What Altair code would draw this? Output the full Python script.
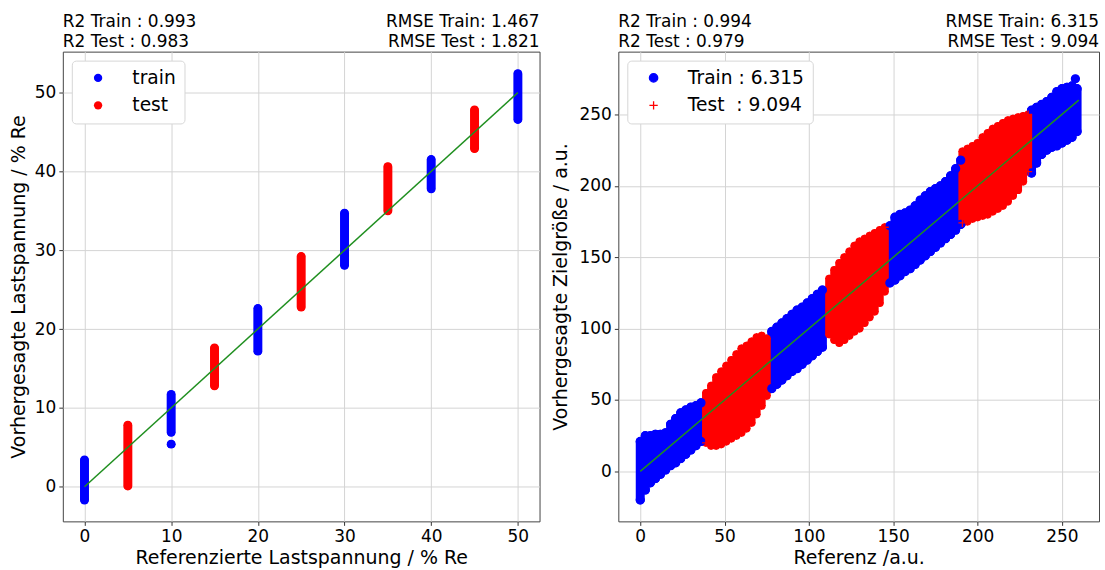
import altair as alt
import pandas as pd

FONT = "DejaVu Sans"
FS = 17        # tick labels / header
FT = 19        # axis titles
FL = 18.7      # legend labels

# ---------------- left panel (Lastspannung) ----------------
left_x   = [0,    5,   10,  10,  15,   20,   25,   30,   35,   40,   45,   50]
left_lo  = [-1.7, 0.1, 6.9, 5.4, 12.8, 17.2, 22.8, 28.1, 35.0, 37.8, 42.9, 46.6]
left_hi  = [3.4,  7.8, 11.7, 5.4, 17.6, 22.6, 29.2, 34.7, 40.6, 41.5, 47.8, 52.4]
left_grp = ["train", "test", "train", "train", "test", "train", "test",
            "train", "test", "train", "test", "train"]
left_line_x = [0, 50]
left_line_y = [0, 50]
left_ticks = [0, 10, 20, 30, 40, 50]
left_header_l = ["R2 Train : 0.993", "R2 Test : 0.983"]
left_header_r = ["RMSE Train: 1.467", "RMSE Test : 1.821"]

# ---------------- right panel (Zielgröße) ----------------
rtrain_x  = [0, 3, 6, 9, 12, 15, 18, 21, 24, 27, 30, 33, 36,
             78, 81, 84, 87, 90, 93, 96, 99, 102, 105, 108,
             148, 151, 154, 157, 160, 163, 166, 169, 172, 175, 178, 181, 184, 187, 190,
             232, 235, 238, 241, 244, 247, 250, 253, 256, 259]
rtrain_hi = [21, 25, 25, 26, 26, 27, 33, 37, 41, 43, 45, 46, 48,
             98, 101, 104, 107, 110, 113, 115, 118, 121, 124, 127,
             172, 178, 180, 181, 183, 186, 190, 193, 196, 198, 200, 203, 207, 212, 218,
             253, 255, 257, 259, 262, 266, 268, 269, 270, 268]
rtrain_lo = [-20, -13, -8, -5, -2, 1, 4, 6, 9, 12, 15, 18, 21,
             58, 61, 64, 67, 70, 72, 75, 78, 81, 84, 87,
             132, 134, 137, 140, 142, 145, 148, 151, 154, 157, 160, 163, 166, 169, 173,
             209, 216, 222, 225, 227, 228, 230, 232, 234, 238]
rtest_x  = [39, 42, 45, 48, 51, 54, 57, 60, 63, 66, 69, 72, 75,
            112, 115, 118, 121, 124, 127, 130, 133, 136, 139, 142, 145,
            191, 194, 197, 200, 203, 206, 209, 212, 215, 218, 221, 224, 227, 230]
rtest_hi = [55, 60, 66, 70, 74, 78, 82, 86, 88, 91, 94, 95, 93,
            135, 141, 146, 150, 154, 158, 161, 163, 165, 167, 169, 171,
            224, 226, 228, 230, 234, 237, 240, 242, 244, 246, 247, 248, 249, 250]
rtest_lo = [20, 18, 18, 19, 21, 23, 25, 27, 30, 34, 40, 46, 53,
            96, 92, 90, 92, 95, 98, 100, 104, 108, 112, 118, 126,
            174, 175, 177, 178, 179, 180, 182, 184, 186, 189, 193, 197, 203, 210]
rtrain_outlier_x = [258]
rtrain_outlier_y = [275]
right_line_x = [0, 260]
right_line_y = [0, 260]
right_ticks = [0, 50, 100, 150, 200, 250]
right_header_l = ["R2 Train : 0.994", "R2 Test : 0.979"]
right_header_r = ["RMSE Train: 6.315", "RMSE Test : 9.094"]
right_labels = ["Train : 6.315", "Test\u00a0 : 9.094"]

LINE_GREEN = "#1f8f1f"


def header(width, left_lines, right_lines):
    one = pd.DataFrame({"a": [0]})
    layers = []
    for i, (tl, tr) in enumerate(zip(left_lines, right_lines)):
        yv = -25 + 20.5 * i
        layers.append(alt.Chart(one).mark_text(align="left", baseline="alphabetic", font=FONT,
                                               fontSize=FS, color="black")
                      .encode(x=alt.value(0), y=alt.value(yv), text=alt.value(tl)))
        layers.append(alt.Chart(one).mark_text(align="right", baseline="alphabetic", font=FONT,
                                               fontSize=FS, color="black")
                      .encode(x=alt.value(width), y=alt.value(yv), text=alt.value(tr)))
    return layers


def legend_cfg():
    return alt.Legend(title=None, orient="top-left", offset=9, fillColor="white",
                      strokeColor="#d6d6d6", cornerRadius=4, padding=8, symbolOffset=9,
                      labelOffset=25, rowPadding=7.5, labelFont=FONT, labelFontSize=FL,
                      labelColor="black", symbolSize=70, symbolStrokeWidth=1.3)


# ---------- build left ----------
LW, LH = 478, 471
lx = alt.Scale(domain=[-2.5, 52.5], nice=False, zero=False)
ly = alt.Scale(domain=[-4.4, 55.2], nice=False, zero=False)
lxa = alt.Axis(values=left_ticks, title="Referenzierte Lastspannung / % Re", format="d",
               titlePadding=4)
lya = alt.Axis(values=left_ticks, title="Vorhergesagte Lastspannung / % Re", format="d",
               titlePadding=6)

ldf = pd.DataFrame({"x": left_x, "lo": left_lo, "hi": left_hi, "grp": left_grp})
lpts = pd.concat([ldf[["x", "grp"]].assign(y=ldf["lo"]), ldf[["x", "grp"]].assign(y=ldf["hi"])])
lline = pd.DataFrame({"x": left_line_x, "y": left_line_y})

left_layers = []
for g, col in [("train", "blue"), ("test", "red")]:
    left_layers.append(
        alt.Chart(ldf).transform_filter(alt.datum.grp == g)
        .mark_rule(color=col, strokeWidth=9, strokeCap="round")
        .encode(x=alt.X("x:Q", scale=lx, axis=lxa), y=alt.Y("lo:Q", scale=ly, axis=lya), y2="hi:Q"))
left_layers.append(
    alt.Chart(lpts).mark_point(filled=True, size=64, opacity=1)
    .encode(x=alt.X("x:Q", scale=lx, axis=lxa), y=alt.Y("y:Q", scale=ly, axis=lya),
            color=alt.Color("grp:N", scale=alt.Scale(domain=["train", "test"], range=["blue", "red"]),
                            legend=legend_cfg())))
left_layers.append(
    alt.Chart(lline).mark_line(color=LINE_GREEN, strokeWidth=1.5)
    .encode(x=alt.X("x:Q", scale=lx), y=alt.Y("y:Q", scale=ly)))
left_layers += header(LW, left_header_l, left_header_r)
left = alt.layer(*left_layers).properties(width=LW, height=LH)

# ---------- build right ----------
RW, RH = 482, 471
rx = alt.Scale(domain=[-13, 272], nice=False, zero=False)
ry = alt.Scale(domain=[-35, 294], nice=False, zero=False)
rxa = alt.Axis(values=right_ticks, title="Referenz /a.u.", format="d", titlePadding=4)
rya = alt.Axis(values=right_ticks, title="Vorhergesagte Zielgröße / a.u.", format="d",
               titlePadding=9)

rtr = pd.DataFrame({"x": rtrain_x, "lo": rtrain_lo, "hi": rtrain_hi, "grp": right_labels[0]})
rte = pd.DataFrame({"x": rtest_x, "lo": rtest_lo, "hi": rtest_hi, "grp": right_labels[1]})
rall = pd.concat([rtr, rte])
rpts = pd.concat([rall[["x", "grp"]].assign(y=rall["lo"]), rall[["x", "grp"]].assign(y=rall["hi"]),
                  pd.DataFrame({"x": rtrain_outlier_x, "y": rtrain_outlier_y, "grp": right_labels[0]})])
rline = pd.DataFrame({"x": right_line_x, "y": right_line_y})

right_layers = [
    alt.Chart(rtr).mark_rule(color="blue", strokeWidth=9, strokeCap="round")
    .encode(x=alt.X("x:Q", scale=rx, axis=rxa), y=alt.Y("lo:Q", scale=ry, axis=rya), y2="hi:Q"),
    alt.Chart(rte).mark_rule(color="red", strokeWidth=8, strokeCap="round")
    .encode(x=alt.X("x:Q", scale=rx, axis=rxa), y=alt.Y("lo:Q", scale=ry, axis=rya), y2="hi:Q"),
    alt.Chart(rpts).mark_point(size=64, opacity=1, strokeWidth=1.3)
    .encode(x=alt.X("x:Q", scale=rx, axis=rxa), y=alt.Y("y:Q", scale=ry, axis=rya),
            shape=alt.Shape("grp:N", scale=alt.Scale(domain=right_labels,
                                                     range=["circle", "M-1,0L1,0M0,-1L0,1"]),
                            legend=legend_cfg()),
            stroke=alt.Stroke("grp:N", scale=alt.Scale(domain=right_labels, range=["blue", "red"]),
                              legend=legend_cfg()),
            fill=alt.Fill("grp:N", scale=alt.Scale(domain=right_labels, range=["blue", "transparent"]),
                          legend=legend_cfg())),
    alt.Chart(rline).mark_line(color=LINE_GREEN, strokeWidth=1.5)
    .encode(x=alt.X("x:Q", scale=rx), y=alt.Y("y:Q", scale=ry)),
]
right_layers += header(RW, right_header_l, right_header_r)
right = alt.layer(*right_layers).properties(width=RW, height=RH)

chart = alt.hconcat(left, right, spacing=10).resolve_scale(
    x="independent", y="independent", color="independent", shape="independent",
    stroke="independent", fill="independent"
).configure_axis(
    labelFont=FONT, labelFontSize=FS, titleFont=FONT, titleFontSize=FT, titleFontWeight="normal",
    labelColor="black", titleColor="black", gridColor="#d4d4d4", gridWidth=1, domain=False,
    tickColor="#333333", tickSize=4, labelPadding=3
).configure_view(stroke="#444444", strokeWidth=1).properties(
    padding={"left": 8, "top": 11, "right": 5, "bottom": 5}
)

chart.save("out.html", embed_options={"renderer": "svg", "actions": False})
